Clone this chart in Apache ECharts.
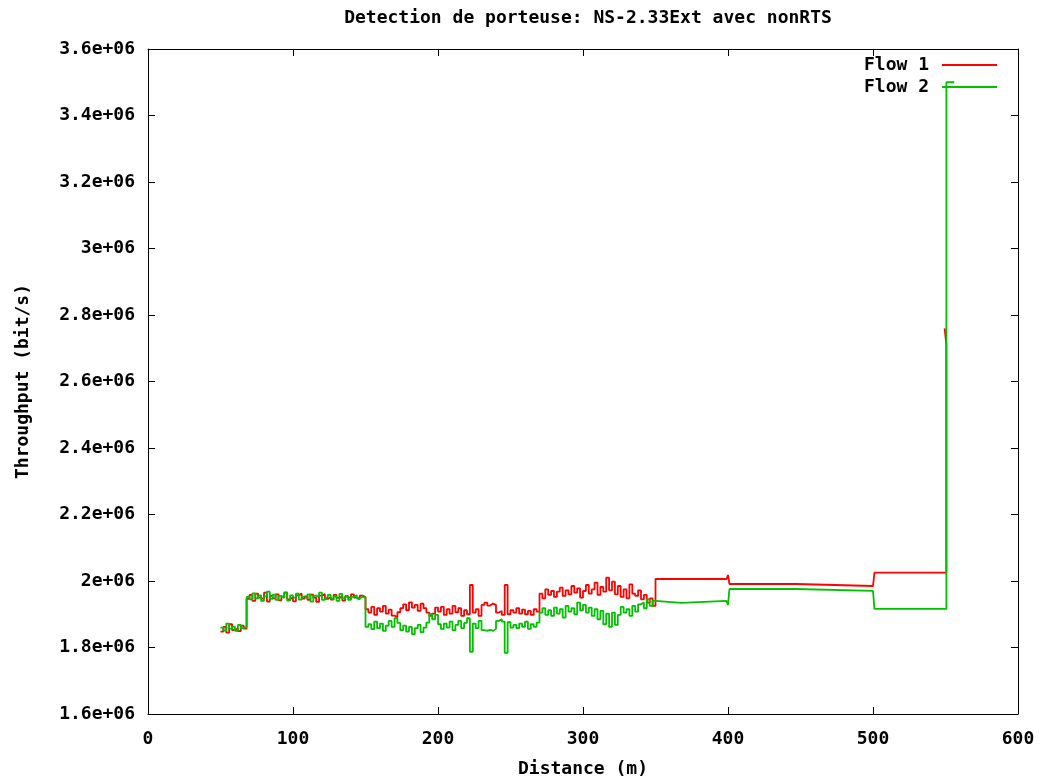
<!DOCTYPE html>
<html>
<head>
<meta charset="utf-8">
<title>Detection de porteuse</title>
<script src="https://cdn.jsdelivr.net/npm/echarts@6/dist/echarts.min.js"></script>
<style>
  html, body { margin: 0; padding: 0; background: #fff; }
  #chart { width: 1044px; height: 780px; }
</style>
</head>
<body>
<div id="chart"></div>
<script>
// distances (m) sampled in the noisy part, shared by both flows
var distance = [
  50,52,54,56,58,60,62,64,66,
  68,70,72,74,76,78,80,82,84,86,88,90,92,94,96,98,100,102,104,106,108,110,112,114,116,118,120,122,124,126,128,130,132,134,136,138,140,142,144,146,148,
  150,152,154,156,158,160,162,164,166,168,170,172,174,176,178,180,182,184,186,188,190,192,194,196,198,200,202,204,206,208,210,212,214,216,218,220,222,224,226,228,230,232,234,236,238,240,242,244,246,248,250,252,254,256,258,260,262,264,266,268,
  270,272,274,276,278,280,282,284,286,288,290,292,294,296,298,300,302,304,306,308,310,312,314,316,318,320,322,324,326,328,330,332,334,336,338,340,342,344,346,348,
  350,368,399,400,401,447,448,500,501
];

// throughput in kbit/s
var flow1 = [
  1848,1862,1845,1870,1852,1858,1849,1866,1857,
  1946,1958,1940,1962,1950,1944,1965,1938,1955,1948,1960,1942,1953,1966,1945,1951,1939,1957,1962,1947,1954,1943,1959,1950,1937,1956,1961,1946,1952,1944,1958,1949,1955,1941,1953,1947,1960,1950,1945,1956,1952,
  1915,1905,1922,1898,1918,1908,1925,1902,1914,1896,1890,1906,1918,1930,1912,1936,1920,1928,1910,1932,1918,1905,1895,1902,1920,1908,1922,1898,1915,1902,1925,1906,1918,1895,1912,1900,1988,1905,1915,1895,1928,1935,1926,1932,1928,1905,1910,1898,1988,1900,1912,1905,1918,1902,1914,1900,1910,1898,1915,1908,
  1962,1948,1975,1958,1970,1952,1968,1980,1955,1972,1960,1985,1965,1978,1950,1970,1988,1962,1975,1995,1958,1982,1968,2010,1972,1998,1960,1985,1952,1975,1948,1990,1962,1955,1972,1945,1958,1935,1948,1925,
  2006,2006,2006,2018,1991,1991,1985,1985,2025
];

var flow2 = [
  1860,1851,1872,1856,1863,1850,1868,1858,1862,
  1952,1945,1963,1948,1957,1940,1954,1968,1946,1959,1943,1955,1949,1964,1941,1957,1950,1962,1944,1953,1947,1960,1938,1956,1951,1965,1943,1950,1958,1946,1954,1940,1961,1948,1955,1943,1952,1957,1947,1953,1950,
  1862,1870,1855,1878,1858,1872,1850,1866,1880,1862,1888,1874,1852,1866,1848,1862,1840,1858,1868,1846,1860,1875,1900,1885,1898,1870,1856,1872,1860,1878,1852,1868,1880,1858,1874,1888,1787,1872,1858,1880,1852,1850,1853,1850,1856,1880,1885,1878,1784,1876,1860,1868,1858,1872,1862,1878,1856,1870,1862,1875,
  1905,1918,1898,1912,1895,1920,1902,1915,1890,1925,1908,1918,1900,1935,1912,1928,1905,1920,1895,1915,1885,1910,1870,1902,1862,1905,1868,1898,1922,1905,1915,1895,1925,1908,1930,1935,1918,1945,1925,1940,
  1934,1940,1940,1928,1976,1976,1970,1970,1916
];

// final jump near 550 m
var flow1EndDist = [550.6, 549.4];
var flow1End = [2710, 2760];
var flow2EndDist = [550.6, 556];
var flow2End = [3500, 3500];

var xTicks = [0, 600, 100];          // min, max, interval
var yTicks = [1.6e6, 3.6e6, 0.2e6];

function pairs(xs, ys) {
  return xs.map(function (x, i) { return [x, ys[i] * 1000]; });
}

var data1 = pairs(distance, flow1).concat(pairs(flow1EndDist, flow1End));
var data2 = pairs(distance, flow2).concat(pairs(flow2EndDist, flow2End));

var font = '"DejaVu Sans Mono", monospace';

function yFmt(v) {
  return (+(v / 1e6).toFixed(1)).toString() + 'e+06';
}

var chart = echarts.init(document.getElementById('chart'));

var baseX = {
  type: 'value',
  min: xTicks[0],
  max: xTicks[1],
  interval: xTicks[2],
  splitLine: { show: false },
  axisLine: { show: true, onZero: false, lineStyle: { color: '#000', width: 1 } },
  axisTick: { show: true, inside: true, length: 7, lineStyle: { color: '#000' } }
};
var baseY = {
  type: 'value',
  min: yTicks[0],
  max: yTicks[1],
  interval: yTicks[2],
  splitLine: { show: false },
  axisLine: { show: true, onZero: false, lineStyle: { color: '#000', width: 1 } },
  axisTick: { show: true, inside: true, length: 7, lineStyle: { color: '#000' } }
};

var option = {
  animation: false,
  backgroundColor: '#fff',
  title: {
    text: 'Detection de porteuse: NS-2.33Ext avec nonRTS',
    left: 583,
    textAlign: 'center',
    top: 4,
    textStyle: { fontFamily: font, fontSize: 18, fontWeight: 'bold', color: '#000' }
  },
  legend: {
    orient: 'vertical',
    right: 42,
    top: 51,
    align: 'right',
    icon: 'rect',
    itemWidth: 55,
    itemHeight: 2,
    itemGap: 4,
    textStyle: { fontFamily: font, fontSize: 18, fontWeight: 'bold', color: '#000', padding: [0, 8, 0, 0] },
    data: ['Flow 1', 'Flow 2']
  },
  grid: { left: 148, right: 26, top: 49, bottom: 66, outerBoundsMode: 'none' },
  xAxis: [
    echarts.util.merge({
      position: 'bottom',
      name: 'Distance (m)',
      nameLocation: 'middle',
      nameGap: 46,
      nameTextStyle: { fontFamily: font, fontSize: 18, fontWeight: 'bold', color: '#000' },
      axisLabel: { margin: 16, fontFamily: font, fontSize: 18, fontWeight: 'bold', color: '#000' }
    }, baseX, true),
    echarts.util.merge({ position: 'top', axisLabel: { show: false } }, baseX, true)
  ],
  yAxis: [
    echarts.util.merge({
      position: 'left',
      name: 'Throughput (bit/s)',
      nameLocation: 'middle',
      nameGap: 116,
      nameTextStyle: { fontFamily: font, fontSize: 18, fontWeight: 'bold', color: '#000' },
      axisLabel: { margin: 13, formatter: yFmt, fontFamily: font, fontSize: 18, fontWeight: 'bold', color: '#000' }
    }, baseY, true),
    echarts.util.merge({ position: 'right', axisLabel: { show: false } }, baseY, true)
  ],
  series: [
    {
      name: 'Flow 1',
      type: 'line',
      step: 'end',
      xAxisIndex: 0,
      yAxisIndex: 0,
      showSymbol: false,
      symbol: 'none',
      color: '#ff0000',
      lineStyle: { color: '#ff0000', width: 1.8 },
      data: data1
    },
    {
      name: 'Flow 2',
      type: 'line',
      step: 'end',
      xAxisIndex: 0,
      yAxisIndex: 0,
      showSymbol: false,
      symbol: 'none',
      color: '#00c000',
      lineStyle: { color: '#00c000', width: 1.8 },
      data: data2
    }
  ]
};

chart.setOption(option);
</script>
</body>
</html>
